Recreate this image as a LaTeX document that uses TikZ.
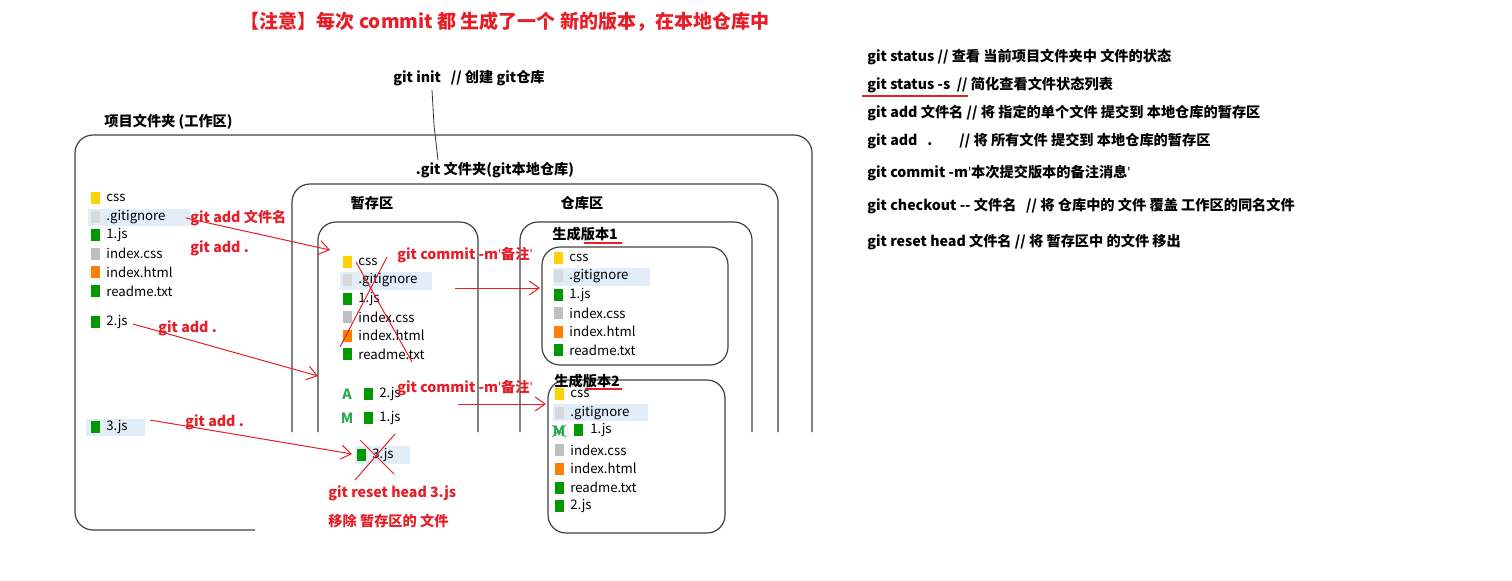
\documentclass[tikz,border=0pt]{standalone}
\usepackage{fontspec}
\setmainfont{Noto Sans CJK SC}
\newfontfamily\latf{Noto Sans}
\usetikzlibrary{arrows.meta}
\definecolor{rd}{RGB}{230,30,40}
\definecolor{hl}{RGB}{225,238,250}
\definecolor{gr}{RGB}{40,170,80}
\tikzset{
 every node/.style={font=\fontsize{7.1pt}{8pt}\selectfont\bfseries, inner sep=0pt},
 lbl/.style={anchor=west},
 fl/.style={anchor=west,font=\fontsize{6.6pt}{7pt}\selectfont},
 rl/.style={anchor=west,text=rd},
 box/.style={draw=black!75,line width=0.6pt,rounded corners=9pt},
 rarr/.style={draw=rd,line width=0.5pt,-{Straight Barb[length=5pt,width=7pt]}},
 rx/.style={draw=rd,line width=0.5pt},
}
\newcommand{\fic}[3]{\fill[#3] (#1-4,#2-6) rectangle (#1+5,#2+6);}
\newcommand{\q}{{\latf\char39}}
\begin{document}
\begin{tikzpicture}[x=0.5pt,y=-0.5pt]
\useasboundingbox (0,0) rectangle (1512,580);
% boxes
\draw[box] (255,530) -- (75,530) -- (75,135) -- (812,135) -- (812,432);
\draw[box] (292,432) -- (292,184) -- (778,184) -- (778,432);
\draw[box] (318,432) -- (318,222) -- (478,222) -- (478,432);
\draw[box] (520,432) -- (520,222) -- (752,222) -- (752,432);
\fill[white] (293,433) rectangle (811,545);
\draw[box] (542,247) rectangle (728,365);
\draw[box,fill=white] (548,380) rectangle (725,533);
% highlights
\fill[hl] (88,209) rectangle (190,226);
\fill[hl] (340,272) rectangle (432,290);
\fill[hl] (553,268) rectangle (650,286);
\fill[hl] (553,404) rectangle (648,421);
\fill[hl] (86,419) rectangle (145,436);
\fill[hl] (355,446) rectangle (410,464);
% titles
\node[text=rd,font=\fontsize{9.5pt}{10pt}\selectfont\bfseries] (title) at (505,22) {【注意】每次 commit 都 生成了一个 新的版本，在本地仓库中};
\node[lbl] (init) at (393,78) {git init~~ // 创建 git仓库};
\node[lbl] (ws) at (104,122) {项目文件夹 (工作区)};
\node (gitf) at (495,170) {.git 文件夹(git本地仓库)};
\node (stage) at (372,203) {暂存区};
\node (repo) at (582,203) {仓库区};
\draw[black!80,line width=0.4pt] (432,90) -- (434,125) -- (438,160);
% commands
\foreach \y/\t in {57/{git status // 查看 当前项目文件夹中 文件的状态},85/{git status -s~ // 简化查看文件状态列表},113/{git add 文件名 // 将 指定的单个文件 提交到 本地仓库的暂存区},141/{git add~~ .~~~~~~~ // 将 所有文件 提交到 本地仓库的暂存区},173/{git commit -m\q{}本次提交版本的备注消息\q{}},206/{git checkout -{}- 文件名~~ // 将 仓库中的 文件 覆盖 工作区的同名文件},242/{git reset head 文件名 // 将 暂存区中 的文件 移出}}
  \node[lbl] at (867,\y) {\t};
\draw[rd,line width=0.8pt] (862,96) -- (968,96);
% file lists
\newcommand{\flist}[3]{%
 \foreach \n/\c [count=\i from 0] in {css/yellow!70!orange,.gitignore/black!15,1.js/green!60!black,index.css/black!25,index.html/orange,readme.txt/green!60!black}{
   \fic{#1}{#2+\i*#3}{\c}
   \node[fl] at (#1+11,#2+\i*#3) {\n};}}
\flist{95}{198}{18.6}
\node[fl] at (106,322) {2.js}; \fic{95}{322}{green!60!black}
\node[fl] at (106,427) {3.js}; \fic{95}{427}{green!60!black}
\flist{347}{262}{18.4}
\flist{558}{258}{18.4}
\node[lbl] (v1) at (552,234) {生成版本1};
\draw[rd,line width=0.9pt] (584,243) -- (622,243);
\node[lbl] (v2) at (554,381) {生成版本2};
\draw[rd,line width=0.9pt] (585,389) -- (622,389);
\foreach \n/\c [count=\i from 0] in {css/yellow!70!orange,.gitignore/black!15,1.js/green!60!black,index.css/black!25,index.html/orange,readme.txt/green!60!black,2.js/green!60!black}{
   \fic{559}{394+\i*18.7}{\c}
   \node[fl] at (570,394+\i*18.7) {\n};}
\fill[white] (552,423) rectangle (600,438);
\node[text=gr] at (559,431) {M}; \draw[gr] (552,425)--(566,437) (552,437)--(566,425);
\fic{578}{430}{green!60!black}
\node[fl] at (590,430) {1.js};
\node[text=gr] at (347,394) {A}; \fic{368}{394}{green!60!black} \node[fl] at (379,394) {2.js};
\node[text=gr] at (347,418) {M}; \fic{368}{418}{green!60!black} \node[fl] at (379,418) {1.js};
\fic{361}{455}{green!60!black} \node[fl] at (372,455) {3.js};
% red labels
\node[rl] at (190,218) {git add 文件名};
\node[rl] at (190,248) {git add .};
\node[rl] at (158,328) {git add .};
\node[rl] at (185,422) {git add .};
\node[rl] at (397,255) {git commit -m\q{}备注\q{}};
\node[rl] at (397,388) {git commit -m\q{}备注\q{}};
\node[rl] at (328,493) {git reset head 3.js};
\node[rl] at (328,521) {移除 暂存区的 文件};
% red arrows
\draw[rarr] (186,218) -- (330,250);
\draw[rarr] (133,324) -- (318,376);
\draw[rarr] (150,420) -- (352,454);
\draw[rarr] (455,288) -- (540,288);
\draw[rarr] (458,404) -- (546,404);
\draw[rx] (387,257) -- (340,347) (356,262) -- (412,362);
\draw[rx] (360,440) -- (394,474) (395,434) -- (355,480);
\end{tikzpicture}
\end{document}
